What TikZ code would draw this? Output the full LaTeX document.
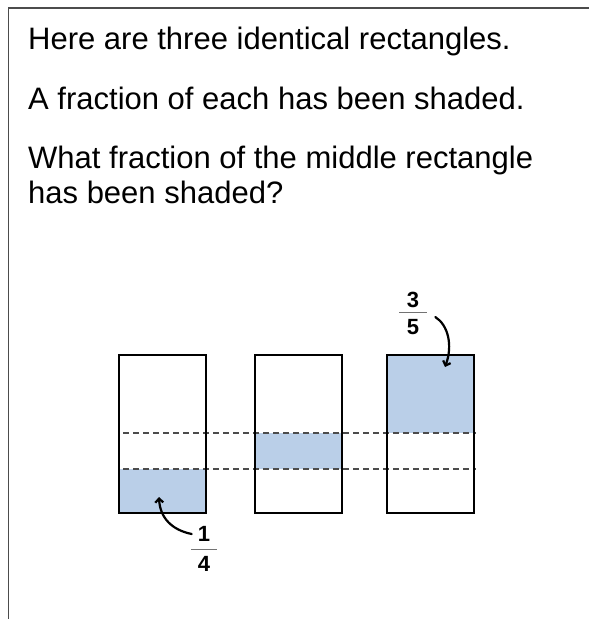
\documentclass[tikz,border=0pt]{standalone}
\usepackage{fontspec}
\setmainfont{Liberation Sans}
\usetikzlibrary{arrows.meta}
\definecolor{colorShade}{RGB}{186,207,232}
\colorlet{colorFrame}{black!70}
\colorlet{colorGuide}{black!70}
\colorlet{colorBar}{black!55}
\tikzset{
   frame/.style={draw=colorFrame, line width=1.6pt},
   box/.style={draw=black, line width=2pt},
   shade/.style={fill=colorShade},
   guide/.style={draw=colorGuide, dash pattern=on 6pt off 4pt, line width=1.4pt},
   bar/.style={draw=colorBar, line width=1pt},
   hand/.style={-{Straight Barb[length=4pt,width=8pt]}, line width=2.2pt, line cap=round},
}

\begin{document}
\begin{tikzpicture}[x=1pt, y=-1pt,
    question/.style={anchor=base west, inner sep=0pt, align=left, font=\fontsize{31}{35}\selectfont},
    digit/.style={inner sep=0pt, font=\fontsize{22}{22}\selectfont\bfseries},
    >=stealth
]
\useasboundingbox (0,0) rectangle (589,619);

% ------------------------------------------------------------
% frame and question
% ------------------------------------------------------------
\draw[frame] (589,8) -- (8.5,8) -- (8.5,619);

\node[question] (q1) at (28,49)  {Here are three identical rectangles.};
\node[question] (q2) at (28,109) {A fraction of each has been shaded.};
\node[question] (q3) at (28,203) {What fraction of the middle rectangle\\has been shaded?};

% ------------------------------------------------------------
% three rectangles
% ------------------------------------------------------------
\fill[shade] (119,469) rectangle (206,513);
\fill[shade] (255,433) rectangle (342,469);
\fill[shade] (387,355) rectangle (474,433);

\draw[guide] (123,433) -- (476,433);
\draw[guide] (123,469) -- (476,469);

\foreach \x in {119,255,387}
   \draw[box] (\x,355) rectangle ++(87,158);

% ------------------------------------------------------------
% labels
% ------------------------------------------------------------
\node[digit] (num35) at (413,300) {3};
\node[digit] (den35) at (413,327) {5};
\draw[bar] (399,312) -- (427,312);
\coordinate (tip35) at (445,367);
\draw[hand] ([xshift=16pt,yshift=-9pt]num35.south east) .. controls (448,325) and (453,345) .. (tip35);

\node[digit] (num14) at (204,534) {1};
\node[digit] (den14) at (204,564) {4};
\draw[bar] (191,549) -- (217,549);
\coordinate (tip14) at (159,497);
\draw[hand] ([xshift=-6pt]num14.west) .. controls (172,530) and (160,518) .. (tip14);
\end{tikzpicture}
\end{document}
